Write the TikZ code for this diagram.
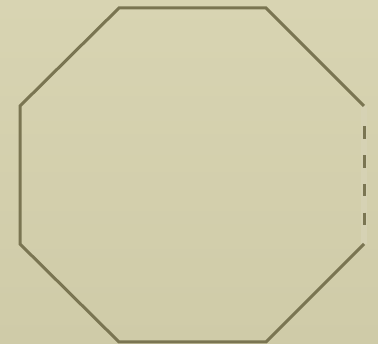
\documentclass[tikz,border=0pt]{standalone}
\usepackage{tikz}
\definecolor{paperTop}{RGB}{216,212,178}
\definecolor{paperBottom}{RGB}{207,203,168}
\definecolor{edgeInk}{RGB}{122,117,82}
\definecolor{edgeGap}{RGB}{214,210,180}
\tikzset{
  wall/.style={draw=edgeInk, line width=3pt, line join=miter},
  openwall/.style={draw=edgeInk, line width=3pt, dash pattern=on 12.6pt off 16.1pt},
  gapstrip/.style={draw=edgeGap, line width=6pt}
}
\begin{document}
\begin{tikzpicture}[x=1pt, y=-1pt]
        \shade[top color=paperTop, bottom color=paperBottom] (0,0) rectangle (378,344);
        \useasboundingbox (0,0) rectangle (378,344);
        % octagon corners
        \coordinate (a) at (119,8);
        \coordinate (b) at (266,8);
        \coordinate (c) at (364,106);
        \coordinate (d) at (364,244);
        \coordinate (e) at (266,342);
        \coordinate (f) at (119,342);
        \coordinate (g) at (20,244);
        \coordinate (h) at (20,106);
        \coordinate (d1) at (364,126.5);
        \coordinate (d2) at (364,226);
        \draw[gapstrip] (c) -- (d);
        \draw[wall] (d) -- (e) -- (f) -- (g) -- (h) -- (a) -- (b) -- (c);
        \draw[openwall] (d1) -- (d2);
      \end{tikzpicture}
\end{document}
